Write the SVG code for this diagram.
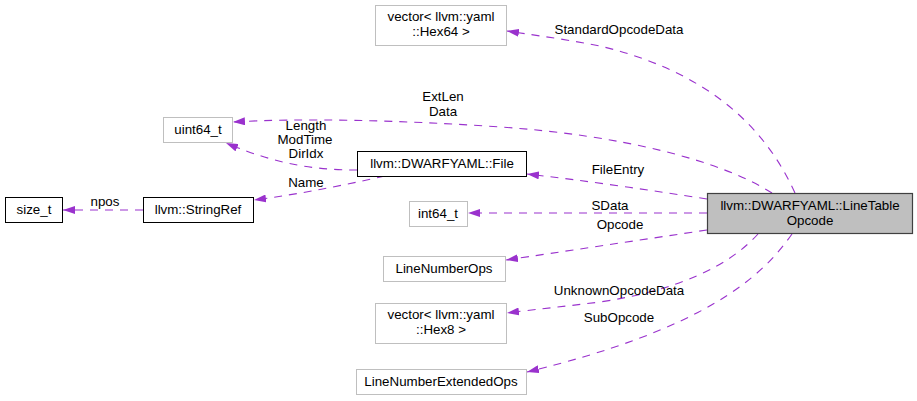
<svg xmlns="http://www.w3.org/2000/svg" width="917" height="401" viewBox="0 0 917 401">
<style>
text{font-family:"Liberation Sans",Arial,sans-serif;font-size:13.33px;fill:#000;text-anchor:middle}
.n rect{fill:#fff;stroke:#bfbfbf;stroke-width:1}
.d rect{fill:#fff;stroke:#000;stroke-width:1}
.m rect{fill:#bfbfbf;stroke:#404040;stroke-width:1.2}
.e{fill:none;stroke:#9a32cd;stroke-width:1.1;stroke-dasharray:8,7;marker-end:url(#a)}
</style>
<defs>
<marker id="a" viewBox="0 0 12 8" refX="12" refY="4" markerWidth="12" markerHeight="8" markerUnits="userSpaceOnUse" orient="auto">
<path d="M0,0 L12,4 L0,8z" fill="#9a32cd"/>
</marker>
</defs>
<g id="edges">
<path class="e" d="M795,193 C762,120 700,70 600,46 C570,40 540,36 507,31"/>
<path class="e" d="M772,193 C720,160 620,135 500,127 C400,120 300,118 233,122"/>
<path class="e" d="M357,170 C320,170 280,166 226,143"/>
<path class="e" d="M385,176 C340,186 300,194 254,200"/>
<path class="e" d="M143,210 L63,210"/>
<path class="e" d="M707,199 C650,190 580,180 527,174"/>
<path class="e" d="M707,213 L468,213"/>
<path class="e" d="M707,230 C640,240 560,252 506,260"/>
<path class="e" d="M758,234 C730,265 680,290 600,302 C560,307 530,310 507,313"/>
<path class="e" d="M792,234 C760,280 700,330 527,372"/>
<text x="619" y="34">StandardOpcodeData</text>
<text x="443" y="101">ExtLen</text>
<text x="443" y="116">Data</text>
<text x="306" y="130">Length</text>
<text x="305" y="144">ModTime</text>
<text x="306" y="158">DirIdx</text>
<text x="306" y="187">Name</text>
<text x="105" y="206">npos</text>
<text x="618" y="174">FileEntry</text>
<text x="610" y="210">SData</text>
<text x="620" y="229">Opcode</text>
<text x="619" y="295">UnknownOpcodeData</text>
<text x="619" y="322">SubOpcode</text>
</g>
<g id="main" class="m"><rect x="707.5" y="193.5" width="205" height="40"/><text x="810" y="209.5">llvm::DWARFYAML::LineTable</text><text x="810" y="224.5">Opcode</text></g>
<g id="vhex64" class="n"><rect x="375.5" y="5.5" width="131" height="40"/><text x="441" y="21">vector&lt; llvm::yaml</text><text x="441" y="36">::Hex64 &gt;</text></g>
<g id="uint64" class="n"><rect x="163.5" y="117.5" width="69" height="25"/><text x="198" y="134">uint64_t</text></g>
<g id="file" class="d"><rect x="357.5" y="151.5" width="169" height="25"/><text x="442" y="168">llvm::DWARFYAML::File</text></g>
<g id="sizet" class="d"><rect x="5.5" y="197.5" width="57" height="25"/><text x="34" y="214">size_t</text></g>
<g id="stringref" class="d"><rect x="143.5" y="197.5" width="110" height="25"/><text x="198" y="214">llvm::StringRef</text></g>
<g id="int64" class="n"><rect x="409.5" y="201.5" width="58" height="25"/><text x="438" y="218">int64_t</text></g>
<g id="lno" class="n"><rect x="383.5" y="256.5" width="122" height="25"/><text x="444" y="273">LineNumberOps</text></g>
<g id="vhex8" class="n"><rect x="375.5" y="303.5" width="131" height="40"/><text x="441" y="319">vector&lt; llvm::yaml</text><text x="441" y="334">::Hex8 &gt;</text></g>
<g id="lneo" class="n"><rect x="356.5" y="369.5" width="170" height="25"/><text x="441" y="386">LineNumberExtendedOps</text></g>
</svg>
